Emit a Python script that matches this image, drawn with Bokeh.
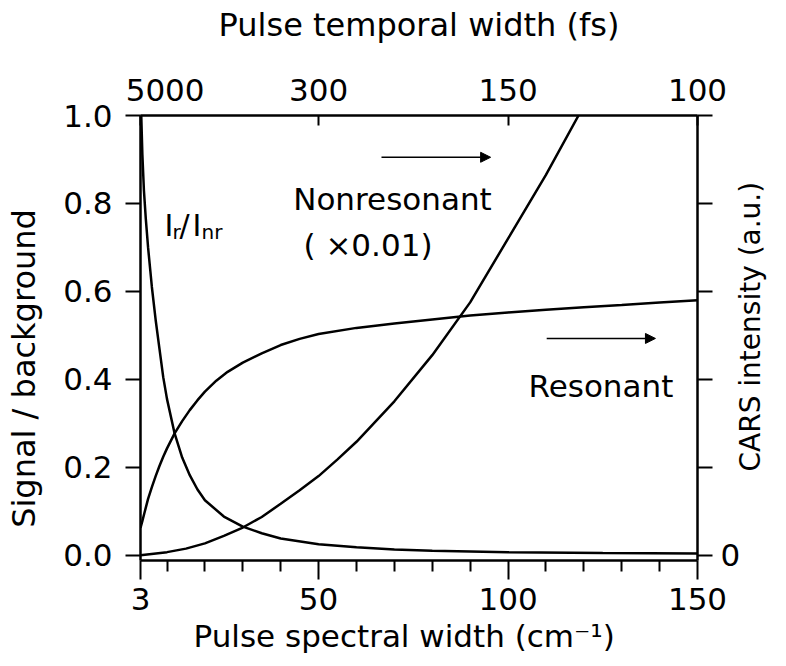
import math
from bokeh.plotting import figure
from bokeh.models import Range1d, LinearAxis, FixedTicker, Label, Arrow, NormalHead, PrintfTickFormatter
from bokeh.embed import file_html
from bokeh.resources import INLINE

# ---- data ----
spectral_ticks = [3, 50, 100, 150]
spectral_minor = [10, 20, 30, 40, 60, 70, 80, 90, 110, 120, 130, 140]
temporal_labels = ["5000", "300", "150", "100"]
left_ticks = [0.0, 0.2, 0.4, 0.6, 0.8, 1.0]

ratio_x = [3.2, 3.5, 3.9, 4.4, 5, 6, 7, 8, 9, 10, 12, 14, 16, 18, 20, 25, 30, 35, 40, 50, 60, 70, 80, 100, 125, 150]
ratio_y = [1.0, 0.91, 0.83, 0.765, 0.70, 0.61, 0.535, 0.47, 0.405, 0.355, 0.277, 0.222, 0.182, 0.150, 0.125, 0.088,
           0.065, 0.05, 0.038, 0.025, 0.018, 0.013, 0.010, 0.007, 0.005, 0.004]

res_x = [3, 3.5, 4, 5, 6, 7, 8, 9, 10, 12, 14, 16, 18, 20, 23, 26, 30, 35, 40, 45, 50, 60, 70, 80, 90, 100,
         110, 120, 130, 140, 150]
res_y = [0.062, 0.078, 0.095, 0.128, 0.155, 0.18, 0.203, 0.224, 0.243, 0.277, 0.305, 0.33, 0.352, 0.372, 0.397,
         0.417, 0.438, 0.459, 0.478, 0.492, 0.503, 0.517, 0.527, 0.536, 0.545, 0.552, 0.558, 0.564, 0.569, 0.575, 0.58]

nonres_x = [3, 10, 15, 20, 25, 30, 35, 40, 45, 50, 55, 60, 70, 80, 90, 100, 110, 118.6]
nonres_y = [0.0, 0.007, 0.015, 0.027, 0.044, 0.063, 0.087, 0.117, 0.148, 0.18, 0.218, 0.258, 0.35, 0.455, 0.575,
            0.72, 0.865, 1.0]

FONT = "DejaVu Sans"
TICK_PX = "31px"
TITLE_PX = "32px"
NB = "\u00a0"

p = figure(width=786, height=666, x_range=Range1d(3, 150), y_range=Range1d(-0.012, 1.0),
           output_backend="svg", toolbar_location=None,
           min_border_left=140, min_border_right=89, min_border_top=115, min_border_bottom=106)
p.xgrid.grid_line_color = None
p.ygrid.grid_line_color = None
p.outline_line_color = None
p.background_fill_color = "white"
p.border_fill_color = "white"


def style_axis(ax):
    ax.axis_line_width = 2.5
    ax.axis_line_color = "black"
    ax.major_tick_line_width = 2
    ax.minor_tick_line_width = 2
    ax.major_tick_line_color = "black"
    ax.minor_tick_line_color = "black"
    ax.major_label_text_font = FONT
    ax.major_label_text_font_size = TICK_PX
    ax.major_label_text_color = "black"
    ax.axis_label_text_font = FONT
    ax.axis_label_text_font_size = TITLE_PX
    ax.axis_label_text_font_style = "normal"
    ax.axis_label_text_color = "black"


# bottom axis
xb = p.xaxis[0]
style_axis(xb)
xb.axis_label_text_font_size = "31px"
xb.ticker = FixedTicker(ticks=spectral_ticks, minor_ticks=spectral_minor)
xb.major_tick_out = 19
xb.major_tick_in = 0
xb.minor_tick_out = 11
xb.minor_tick_in = 0
xb.major_label_standoff = 8
xb.axis_label = "Pulse spectral width (cm\u207b\u00b9)" + NB * 3
xb.axis_label_standoff = 5

# left axis
yl = p.yaxis[0]
style_axis(yl)
yl.ticker = FixedTicker(ticks=left_ticks, minor_ticks=[])
yl.formatter = PrintfTickFormatter(format="%.1f")
yl.major_tick_out = 15
yl.major_tick_in = 0
yl.major_label_standoff = 13
yl.axis_label = "Signal / background" + NB * 6
yl.axis_label_standoff = 17

# top axis
top_labels = [NB * 5 + temporal_labels[0]] + temporal_labels[1:]
xt = LinearAxis(ticker=FixedTicker(ticks=spectral_ticks, minor_ticks=[]),
                major_label_overrides={t: l for t, l in zip(spectral_ticks, top_labels)},
                axis_label="Pulse temporal width (fs)")
style_axis(xt)
xt.major_tick_in = 10
xt.major_tick_out = 0
xt.major_label_standoff = 8
xt.axis_label_standoff = 25
p.add_layout(xt, "above")

# right axis
yr = LinearAxis(ticker=FixedTicker(ticks=[0.0], minor_ticks=left_ticks[1:]),
                formatter=PrintfTickFormatter(format="%.0f"))
style_axis(yr)
yr.axis_label_text_font_size = "28px"
yr.axis_label_text_line_height = 0.8
yr.major_tick_out = 15
yr.major_tick_in = 0
yr.minor_tick_out = 15
yr.minor_tick_in = 0
yr.major_label_standoff = 8
yr.axis_label_standoff = 7
if "axis_label_orientation" in yr.properties():
    yr.axis_label_orientation = math.pi / 2
    yr.axis_label_text_baseline = "top"
    if "axis_label_align" in yr.properties():
        yr.axis_label_align = "start"
        yr.axis_label = NB * 10 + "CARS intensity (a.u.)"
    else:
        yr.axis_label = "CARS intensity (a.u.)"
else:
    yr.axis_label = "CARS intensity (a.u.)" + NB * 3
p.add_layout(yr, "right")

# curves
for xs, ys in ((ratio_x, ratio_y), (res_x, res_y), (nonres_x, nonres_y)):
    p.line(xs, ys, line_color="black", line_width=2.5)


# annotations
def txt(x, y, s, size="31px", xo=0, yo=0):
    p.add_layout(Label(x=x, y=y, text=s, x_offset=xo, y_offset=yo, text_font=FONT,
                       text_font_size=size, text_color="black",
                       text_align="left", text_baseline="alphabetic"))


txt(43.3, 0.809, "Nonresonant")
txt(46.0, 0.705, "( \u00d70.01)")
txt(105.4, 0.384, "Resonant")

# I_r / I_nr
txt(9.33, 0.749, "I", "30px")
txt(9.33, 0.736, "r", "20px", xo=8)
txt(9.33, 0.749, "/", "30px", xo=15)
txt(9.33, 0.749, "I", "30px", xo=28)
txt(9.33, 0.736, "nr", "20px", xo=37)

# arrows
p.add_layout(Arrow(end=NormalHead(size=10, fill_color="black", line_color="black"),
                   x_start=66.6, y_start=0.905, x_end=95.4, y_end=0.905,
                   line_width=1.5, line_color="black"))
p.add_layout(Arrow(end=NormalHead(size=10, fill_color="black", line_color="black"),
                   x_start=110.2, y_start=0.493, x_end=138.9, y_end=0.493,
                   line_width=1.5, line_color="black"))

open("out.html", "w").write(file_html(p, INLINE))
